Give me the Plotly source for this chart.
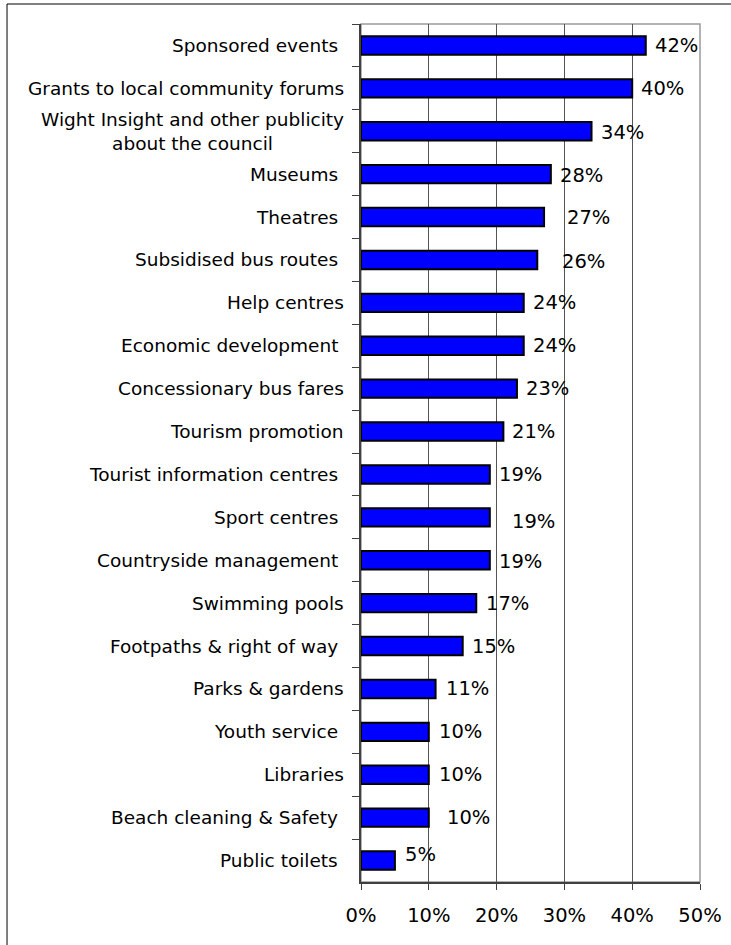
import plotly.graph_objects as go

# Services and the share of respondents choosing each (percent)
categories = [
    "Sponsored events\u00a0",
    "Grants to local community forums",
    "Wight Insight and other publicity<br>about the council",
    "Museums\u00a0",
    "Theatres\u00a0",
    "Subsidised bus routes\u00a0",
    "Help centres",
    "Economic development\u00a0",
    "Concessionary bus fares",
    "Tourism promotion",
    "Tourist information centres\u00a0",
    "Sport centres\u00a0",
    "Countryside management\u00a0",
    "Swimming pools",
    "Footpaths & right of way\u00a0",
    "Parks & gardens",
    "Youth service\u00a0",
    "Libraries",
    "Beach cleaning & Safety\u00a0",
    "Public toilets\u00a0",
]
values = [42, 40, 34, 28, 27, 26, 24, 24, 23, 21, 19, 19, 19, 17, 15, 11, 10, 10, 10, 5]

# value-label nudges (pixels) for a few labels sitting further out
label_dx = [7, 7, 7, 7, 21, 23, 7, 7, 7, 7, 7, 20, 7, 8, 7, 8, 8, 8, 16, 8]
label_dy = [0, 0, -1, -1, 0, -2, 0, 0, 0, 0, 0, -4, -1, 0, 0, 0, 0, 0, 0, 6]

tick_vals = [0, 10, 20, 30, 40, 50]
tick_text = [f"{t}%" for t in tick_vals]

FONT = "DejaVu Sans"
FS_CAT = 18.5
FS_NUM = 19.5

fig = go.Figure()
fig.add_trace(go.Bar(
    x=values,
    y=categories,
    orientation="h",
    marker=dict(color="#0000FF", line=dict(color="#000000", width=2)),
    hoverinfo="x+y",
))

annotations = []
for cat, v, dx, dy in zip(categories, values, label_dx, label_dy):
    # category label, centred lines, right edge near the axis
    annotations.append(dict(
        x=0, xref="paper", y=cat, yref="y",
        text=cat, showarrow=False, xanchor="right", yanchor="middle",
        align="center", xshift=-15,
        font=dict(family=FONT, size=FS_CAT, color="#000000"),
    ))
    # value label at the end of the bar
    annotations.append(dict(
        x=v, xref="x", y=cat, yref="y",
        text=f"{v}%", showarrow=False, xanchor="left", yanchor="middle",
        xshift=dx, yshift=dy,
        font=dict(family=FONT, size=FS_NUM, color="#000000"),
    ))

fig.update_layout(
    width=731, height=945,
    margin=dict(l=361, r=31, t=24, b=63, autoexpand=False),
    paper_bgcolor="#FFFFFF",
    plot_bgcolor="#FFFFFF",
    showlegend=False,
    bargap=0.57,
    font=dict(family=FONT, size=FS_CAT, color="#000000"),
    annotations=annotations,
    shapes=[
        # plot-area frame
        dict(type="rect", xref="paper", yref="paper", x0=0, x1=1, y0=0, y1=1,
             line=dict(color="#9a9a9a", width=1.5), layer="below"),
        # outer chart border
        dict(type="rect", xref="paper", yref="paper",
             x0=-1.0442, x1=1.097, y0=-0.0758, y1=1.0233,
             line=dict(color="#000000", width=1)),
    ],
    xaxis=dict(
        range=[0, 50],
        automargin=False,
        tickvals=tick_vals, ticktext=tick_text,
        showgrid=True, gridcolor="#555555", gridwidth=1,
        zeroline=False,
        showline=True, linecolor="#404040", linewidth=1.5,
        ticks="outside", ticklen=6, tickcolor="#404040",
        ticklabelstandoff=9,
        tickfont=dict(family=FONT, size=FS_NUM, color="#000000"),
        fixedrange=True,
    ),
    yaxis=dict(
        type="category",
        autorange="reversed",
        automargin=False,
        showticklabels=False,
        showgrid=False, zeroline=False,
        showline=True, linecolor="#404040", linewidth=1.5,
        ticks="outside", ticklen=7, tickcolor="#404040",
        tickson="boundaries",
        fixedrange=True,
    ),
)

fig.write_html("out.html")
